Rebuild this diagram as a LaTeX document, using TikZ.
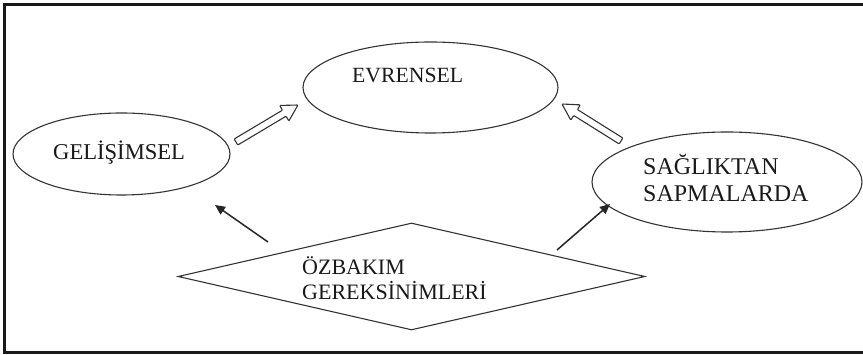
\documentclass[tikz,border=0pt]{standalone}
\usepackage{fontspec}
\setmainfont{Liberation Serif}
\usetikzlibrary{shapes.geometric,arrows.meta,calc}

\tikzset{
  outline/.style={draw=black!80, line width=1.1pt},
  oval/.style={outline, ellipse, inner sep=0pt},
  rhomb/.style={outline, diamond, inner sep=0pt},
  txt/.style={inner sep=0pt, anchor=base west, text=black!90},
  pointer/.style={draw=black!85, line width=1.5pt, -{Triangle[length=10pt,width=9pt]}},
  frameline/.style={draw=black!90, line width=3.5pt},
}

% hollow block arrow from tail #1 to tip #2
\newcommand\fatarrow[2]{%
  \coordinate (hb) at ($(#2)!16pt!(#1)$);
  \draw[outline, line join=round, rounded corners=0.8pt]
    ($(#1)!3.5pt!90:(#2)$) -- ($(hb)!3.5pt!90:(#2)$) -- ($(hb)!9pt!90:(#2)$)
    -- (#2) -- ($(hb)!9pt!-90:(#2)$) -- ($(hb)!3.5pt!-90:(#2)$)
    -- ($(#1)!3.5pt!-90:(#2)$) -- cycle;
}

\begin{document}
\begin{tikzpicture}[x=1pt, y=-1pt]
  \useasboundingbox (0,0) rectangle (863,355);
  \fill[white] (0,0) rectangle (863,355);

  % frame
  \draw[frameline] (870,4.5) -- (4.5,4.5) -- (4.5,352.5) -- (870,352.5);

  % shapes
  \node[oval, minimum width=255pt, minimum height=91pt] (evr) at (430.5,87.5) {};
  \node[oval, minimum width=217pt, minimum height=82pt] (gel) at (121.5,154) {};
  \node[oval, minimum width=270pt, minimum height=100pt] (sag) at (727,182) {};
  \node[rhomb, minimum width=467pt, minimum height=107pt] (ozb) at (411.5,276.5) {};

  % labels
  \node[txt, font=\fontsize{21.7}{26}\selectfont] (evrt) at (352,83) {EVRENSEL};
  \node[txt, font=\fontsize{22.6}{26}\selectfont] (gelt) at (53,160) {GELİŞİMSEL};
  \node[txt, font=\fontsize{24}{27}\selectfont] (sagt1) at (643,175) {SAĞLIKTAN};
  \node[txt, font=\fontsize{24}{27}\selectfont] (sagt2) at (643,202) {SAPMALARDA};
  \node[txt, font=\fontsize{22}{25}\selectfont] (ozbt1) at (302,275) {ÖZBAKIM};
  \node[txt, font=\fontsize{22}{25}\selectfont] (ozbt2) at (302,300) {GEREKSİNİMLERİ};

  % arrow end points
  \coordinate (ga) at (236,142);
  \coordinate (gb) at (298,105);
  \coordinate (sa) at (621,141);
  \coordinate (sb) at (562,104);
  \coordinate (pa) at (268,242);
  \coordinate (pb) at (215,205);
  \coordinate (qa) at (557,250);
  \coordinate (qb) at (610,204);

  % hollow arrows towards EVRENSEL
  \fatarrow{ga}{gb}
  \fatarrow{sa}{sb}

  % arrows from the diamond
  \draw[pointer] (pa) -- (pb);
  \draw[pointer] (qa) -- (qb);
\end{tikzpicture}
\end{document}
